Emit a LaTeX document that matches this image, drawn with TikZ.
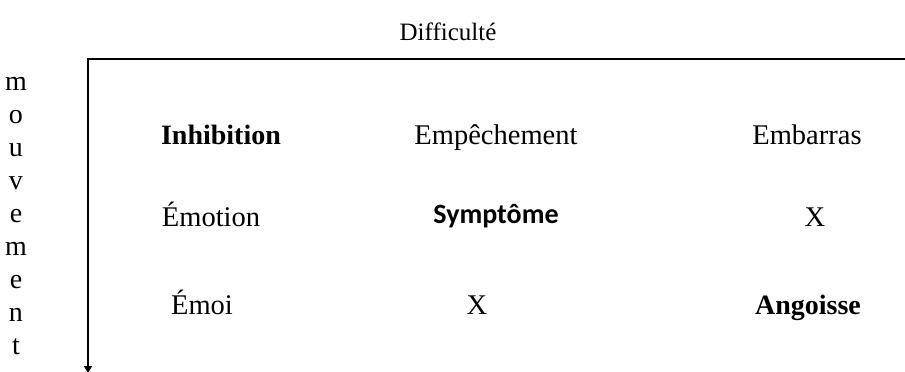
\documentclass[tikz,border=0pt]{standalone}
\usepackage{fontspec}
\setmainfont{Liberation Serif}
\newfontfamily\calfont{Carlito}
\usetikzlibrary{arrows.meta}
\begin{document}
\begin{tikzpicture}[x=1pt,y=-1pt,
  lbl/.style={inner sep=0pt,anchor=base,font=\fontsize{28.5}{34}\selectfont},
  boldlbl/.style={lbl,font=\fontsize{28}{34}\selectfont\bfseries},
  letter/.style={inner sep=0pt,anchor=base,font=\fontsize{28}{34}\selectfont},
  axis/.style={line width=2.6pt}]
\useasboundingbox[fill=white] (0,0) rectangle (905,372);
\node[lbl,font=\fontsize{25}{30}\selectfont] (diff) at (448,40) {Difficulté};
\foreach \ch [count=\i from 0] in {m,o,u,v,e,m,e,n,t}
  \node[letter] (mv\i) at (16,90+33*\i) {\ch};
\coordinate (corner) at (88,59);
\coordinate (right) at (906,59);
\coordinate (bottom) at (88,373);
\draw[axis,-{Triangle[length=7pt,width=8pt]}] (right) -- (corner) -- (bottom);
\node[boldlbl] (inh) at (221,144) {Inhibition};
\node[lbl] (emp) at (496,144) {Empêchement};
\node[lbl] (emb) at (807,144) {Embarras};
\node[lbl] (emo) at (211,226) {Émotion};
\node[inner sep=0pt,anchor=base,font=\fontsize{28}{34}\selectfont\calfont\bfseries] (sym) at (496,223) {Symptôme};
\node[lbl] (x1) at (815,226) {X};
\node[lbl] (emoi) at (202,314) {Émoi};
\node[lbl] (x2) at (477,314) {X};
\node[boldlbl] (ang) at (808,314) {Angoisse};
\end{tikzpicture}
\end{document}
